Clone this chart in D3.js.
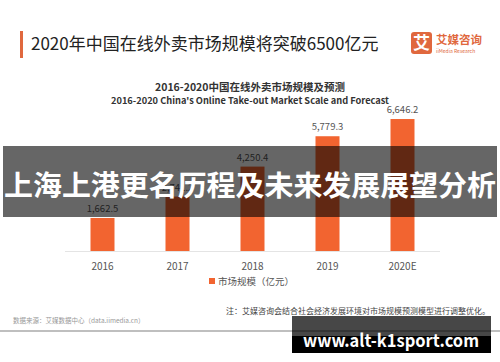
<!DOCTYPE html>
<html>
<head>
<meta charset="utf-8">
<script src="https://cdn.jsdelivr.net/npm/d3@7"></script>
<style>
  body { margin: 0; background: #fff; }
  text { font-family: "Noto Sans CJK SC", "Noto Sans", sans-serif; }
</style>
</head>
<body>
<div id="chart"></div>
<script>
const years = ['2016', '2017', '2018', '2019', '2020E'];
const scale = [1662.5, 2741.2, 4250.4, 5779.3, 6646.2];
const legendLabel = '市场规模（亿元）';

const width = 500, height = 362;
const barColor = '#f26430';

const svg = d3.select('#chart').append('svg')
    .attr('width', width).attr('height', height);

svg.append('rect').attr('width', width).attr('height', height).attr('fill', '#fff');

// header
svg.append('rect').attr('x', 20).attr('y', 31).attr('width', 3).attr('height', 27).attr('fill', '#e0683e');
svg.append('text').attr('x', 31).attr('y', 50)
    .attr('font-size', 17).attr('fill', '#222')
    .text('2020年中国在线外卖市场规模将突破6500亿元');

// logo
const logo = svg.append('g').attr('transform', 'translate(411,32)');
logo.append('rect').attr('width', 21).attr('height', 22).attr('rx', 3).attr('fill', '#e0683e');
logo.append('text').attr('x', 10.5).attr('y', 17).attr('text-anchor', 'middle')
    .attr('font-size', 17).attr('font-weight', 'bold').attr('fill', '#fff').text('艾');
logo.append('text').attr('x', 25).attr('y', 12).attr('font-size', 11.5).attr('font-weight', 'bold')
    .attr('fill', '#e0683e').text('艾媒咨询');
logo.append('text').attr('x', 25).attr('y', 21).attr('font-size', 5).attr('fill', '#e0683e')
    .text('iiMedia Research');

// chart subtitle
svg.append('text').attr('x', 250).attr('y', 91).attr('text-anchor', 'middle')
    .attr('font-size', 10.5).attr('font-weight', 'bold').attr('fill', '#333')
    .text('2016-2020中国在线外卖市场规模及预测');
svg.append('text').attr('x', 250).attr('y', 104).attr('text-anchor', 'middle')
    .attr('font-size', 9).attr('font-weight', 'bold').attr('fill', '#333')
    .attr('textLength', 278).attr('lengthAdjust', 'spacingAndGlyphs')
    .text("2016-2020 China's Online Take-out Market Scale and Forecast");

const x = d3.scaleBand().domain(years).range([65, 440]).paddingInner(0.68).paddingOuter(0.34);
const y = d3.scaleLinear().domain([0, 7000]).range([251, 112]);

svg.append('line').attr('x1', 65).attr('x2', 440).attr('y1', y(0) + 0.5).attr('y2', y(0) + 0.5)
    .attr('stroke', '#e4e4e4');

svg.selectAll('.bar').data(scale).enter().append('rect')
    .attr('class', 'bar')
    .attr('x', (d, i) => x(years[i]))
    .attr('y', d => y(d))
    .attr('width', x.bandwidth())
    .attr('height', d => y(0) - y(d))
    .attr('fill', barColor);

svg.selectAll('.val').data(scale).enter().append('text')
    .attr('x', (d, i) => x(years[i]) + x.bandwidth() / 2)
    .attr('y', d => y(d) - 6)
    .attr('text-anchor', 'middle').attr('font-size', 9.5).attr('fill', '#555')
    .text(d => d3.format(',.1f')(d));

const xAxis = svg.append('g').attr('transform', `translate(0,${y(0)})`)
    .call(d3.axisBottom(x).tickSize(0).tickPadding(12));
xAxis.select('.domain').remove();
xAxis.selectAll('text').attr('font-size', 10).attr('fill', '#555')
    .attr('font-family', '"Noto Sans CJK SC", sans-serif');

// legend
svg.append('rect').attr('x', 209).attr('y', 278).attr('width', 6).attr('height', 6).attr('fill', barColor);
svg.append('text').attr('x', 218).attr('y', 285).attr('font-size', 9.5).attr('fill', '#555').text(legendLabel);

// footer
svg.append('text').attr('x', 490).attr('y', 314).attr('text-anchor', 'end')
    .attr('font-size', 8).attr('fill', '#444')
    .text('注：艾媒咨询会结合社会经济发展环境对市场规模预测模型进行调整优化。');
svg.append('text').attr('x', 13).attr('y', 323)
    .attr('font-size', 6.5).attr('fill', '#999')
    .text('数据来源：艾媒数据中心（data.iimedia.cn）');
svg.append('line').attr('x1', 0).attr('x2', 500).attr('y1', 331).attr('y2', 331)
    .attr('stroke', '#aaa').attr('stroke-width', 1.5);

// overlay band
svg.append('rect').attr('x', 3).attr('y', 146).attr('width', 494).attr('height', 71)
    .attr('fill', '#000').attr('fill-opacity', 0.6);
svg.append('text').attr('x', 250).attr('y', 196).attr('text-anchor', 'middle')
    .attr('font-size', 28.5).attr('font-weight', 'bold').attr('fill', '#fff')
    .attr('textLength', 492).attr('lengthAdjust', 'spacingAndGlyphs')
    .text('上海上港更名历程及未来发展展望分析');

// watermark box
svg.append('rect').attr('x', 292).attr('y', 316).attr('width', 199).attr('height', 20)
    .attr('fill', '#000').attr('fill-opacity', 0.72);
svg.append('rect').attr('x', 292).attr('y', 336).attr('width', 199).attr('height', 17)
    .attr('fill', '#000');
svg.append('text').attr('x', 391).attr('y', 347).attr('text-anchor', 'middle')
    .attr('font-size', 18).attr('font-weight', 'bold').attr('fill', '#fff')
    .attr('font-family', '"DejaVu Sans", sans-serif')
    .attr('textLength', 176).attr('lengthAdjust', 'spacingAndGlyphs')
    .text('www.alt-k1sport.com');
</script>
</body>
</html>
